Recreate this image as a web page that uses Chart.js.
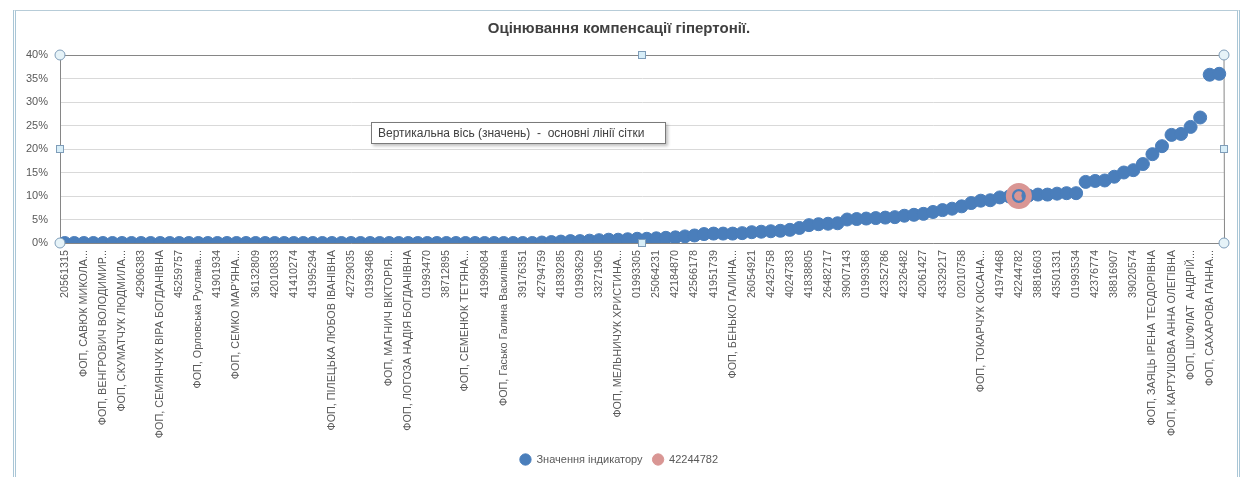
<!DOCTYPE html>
<html>
<head>
<meta charset="utf-8">
<script src="https://cdn.jsdelivr.net/npm/chart.js@4.4.1/dist/chart.umd.min.js"></script>
<style>
  body { margin: 0; background: #fff; }
  #wrap { position: relative; width: 1250px; height: 477px; overflow: hidden; }
  #frame { position: absolute; left: 13px; top: 10px; width: 1221px; height: 480px;
           border: 1px solid #b7ccd8; border-left: 3px double #a9c6d6; border-right: 3px double #a9c6d6; }
  #hint { position: absolute; left: 371px; top: 122px; width: 287px; height: 20px; padding-left: 6px;
          background: #fff; border: 1px solid #7a7a7a; box-shadow: 2px 2px 3px rgba(0,0,0,0.25);
          font: 12px "Liberation Sans", Arial, sans-serif; color: #404040; line-height: 20px; white-space: pre; }
  canvas { position: absolute; left: 0; top: 0; }
</style>
</head>
<body>
<div id="wrap">
  <div id="frame"></div>
  <canvas id="chart" width="1250" height="477"></canvas>
  <div id="hint">Вертикальна вісь (значень)  -  основні лінії сітки</div>
</div>
<script>
const titleText = 'Оцінювання компенсації гіпертонії.';
const seriesName = 'Значення індикатору';
const highlightLabel = '42244782';

// every second category label is printed on the axis; the others are hidden
const shownLabels = [
  '20561315', 'ФОП, САВЮК МИКОЛА...', 'ФОП, ВЕНГРОВИЧ ВОЛОДИМИР...', 'ФОП, СКУМАТЧУК ЛЮДМИЛА...',
  '42906383', 'ФОП, СЕМЯНЧУК ВІРА БОГДАНІВНА', '45259757', 'ФОП, Орловська Руслана...',
  '41901934', "ФОП, СЕМКО МАР'ЯНА...", '36132809', '42010833', '41410274', '41995294',
  'ФОП, ПІЛЕЦЬКА ЛЮБОВ ІВАНІВНА', '42729035', '01993486', 'ФОП, МАГНИЧ ВІКТОРІЯ...',
  'ФОП, ЛОГОЗА НАДІЯ БОГДАНІВНА', '01993470', '38712895', 'ФОП, СЕМЕНЮК ТЕТЯНА...',
  '41999084', 'ФОП, Гасько Галина Василівна', '39176351', '42794759', '41839285', '01993629',
  '33271905', 'ФОП, МЕЛЬНИЧУК ХРИСТИНА...', '01993305', '25064231', '42184870', '42566178',
  '41951739', 'ФОП, БЕНЬКО ГАЛИНА...', '26054921', '42425758', '40247383', '41838805',
  '26482717', '39007143', '01993368', '42352786', '42326482', '42061427', '43329217',
  '02010758', 'ФОП, ТОКАРЧУК ОКСАНА...', '41974468', '42244782', '38816603', '43501331',
  '01993534', '42376774', '38816907', '39020574', 'ФОП, ЗАЯЦЬ ІРЕНА ТЕОДОРІВНА',
  'ФОП, КАРТУШОВА АННА ОЛЕГІВНА', 'ФОП, ШУФЛАТ  АНДРІЙ...', 'ФОП, САХАРОВА ГАННА...'
];

// indicator values, %
const values = [
  0, 0, 0, 0, 0, 0, 0, 0, 0, 0,
  0, 0, 0, 0, 0, 0, 0, 0, 0, 0,
  0, 0, 0, 0, 0, 0, 0, 0, 0, 0,
  0, 0, 0, 0, 0, 0, 0, 0, 0, 0,
  0, 0, 0, 0, 0, 0, 0, 0, 0, 0,
  0.1, 0.2, 0.3, 0.4, 0.4, 0.5, 0.6, 0.7, 0.7, 0.8,
  0.9, 0.9, 1.0, 1.1, 1.2, 1.4, 1.6, 1.9, 2.0, 2.0,
  2.0, 2.1, 2.3, 2.4, 2.5, 2.6, 2.8, 3.2, 3.8, 4.0,
  4.1, 4.2, 5.0, 5.1, 5.2, 5.3, 5.4, 5.5, 5.8, 6.0,
  6.2, 6.6, 7.0, 7.3, 7.8, 8.5, 9.0, 9.1, 9.7, 9.9,
  10.0, 10.1, 10.3, 10.3, 10.5, 10.6, 10.6, 13.0, 13.2, 13.3,
  14.1, 15.0, 15.5, 16.8, 18.9, 20.6, 23.0, 23.2, 24.7, 26.7,
  35.8, 36.0
];

const yTicks = [0, 5, 10, 15, 20, 25, 30, 35, 40];

const categories = values.map((v, i) => i % 2 === 0 ? shownLabels[i / 2] : '');
const hi = categories.indexOf(highlightLabel);
const highlightData = values.map((v, i) => i === hi ? v : null);

const blue = '#4a7ebb';
const pink = '#d99694';
const font = '"Liberation Sans", Arial, sans-serif';

// plot area border and the selection handles around it
const plotFrame = {
  id: 'plotFrame',
  beforeDatasetsDraw(chart) {
    const {ctx, chartArea: a} = chart;
    ctx.save();
    ctx.strokeStyle = '#868686';
    ctx.lineWidth = 1;
    ctx.beginPath();
    ctx.moveTo(a.left, a.top + 0.5);
    ctx.lineTo(a.right, a.top + 0.5);
    ctx.lineTo(a.right + 0.5, a.bottom);
    ctx.stroke();
    ctx.restore();
  },
  afterDraw(chart) {
    const {ctx, chartArea: a} = chart;
    const mx = (a.left + a.right) / 2, my = (a.top + a.bottom) / 2;
    ctx.save();
    ctx.lineWidth = 1;
    ctx.strokeStyle = '#7f9db9';
    ctx.fillStyle = '#e6f3f8';
    [[a.left, a.top], [a.right, a.top], [a.left, a.bottom], [a.right, a.bottom]].forEach(([x, y]) => {
      ctx.beginPath();
      ctx.arc(x, y, 5, 0, Math.PI * 2);
      ctx.fill();
      ctx.stroke();
    });
    ctx.fillStyle = '#d8eef8';
    [[mx, a.top], [mx, a.bottom], [a.left, my], [a.right, my]].forEach(([x, y]) => {
      ctx.fillRect(x - 4, y - 4, 8, 8);
      ctx.strokeRect(x - 3.5, y - 3.5, 7, 7);
    });
    ctx.restore();
  }
};

new Chart(document.getElementById('chart'), {
  type: 'line',
  data: {
    labels: categories,
    datasets: [{
      label: seriesName,
      data: values,
      showLine: false,
      order: 2,
      pointRadius: 6.5,
      pointBorderWidth: ctx => ctx.dataIndex === hi ? 3.5 : 1,
      pointBackgroundColor: ctx => ctx.dataIndex === hi ? pink : blue,
      pointBorderColor: blue
    }, {
      label: highlightLabel,
      data: highlightData,
      showLine: false,
      order: 1,
      pointRadius: 10,
      pointBorderWidth: 6,
      pointBackgroundColor: 'rgba(0,0,0,0)',
      pointBorderColor: pink
    }]
  },
  options: {
    responsive: false,
    animation: false,
    layout: { padding: { left: 14, right: 26, top: 0, bottom: 2 } },
    plugins: {
      title: {
        display: true,
        text: titleText,
        color: '#404040',
        font: { size: 15, weight: 'bold', family: font },
        padding: { top: 20, bottom: 17 }
      },
      legend: {
        position: 'bottom',
        labels: {
          usePointStyle: true,
          pointStyle: 'circle',
          boxHeight: 8,
          color: '#595959',
          font: { size: 11, family: font },
          padding: 10,
          sort: (a, b) => a.datasetIndex - b.datasetIndex,
          generateLabels(chart) {
            const items = Chart.defaults.plugins.legend.labels.generateLabels(chart);
            items.forEach(it => { it.fillStyle = it.strokeStyle; it.lineWidth = 1; });
            return items;
          }
        }
      },
      tooltip: { enabled: false }
    },
    scales: {
      x: {
        offset: true,
        grid: { display: false, drawTicks: false },
        border: { color: '#868686', z: 1 },
        ticks: {
          autoSkip: false,
          minRotation: 90,
          maxRotation: 90,
          padding: 7,
          color: '#595959',
          font: { size: 10.8, family: font }
        },
        afterFit(scale) { scale.height = 201; }
      },
      y: {
        min: yTicks[0],
        max: yTicks[yTicks.length - 1],
        afterBuildTicks(scale) { scale.ticks = yTicks.map(v => ({ value: v })); },
        grid: { color: '#d9d9d9', drawTicks: false },
        border: { color: '#868686' },
        ticks: {
          padding: 12,
          color: '#595959',
          font: { size: 11, family: font },
          callback: v => v + '%'
        },
        afterFit(scale) { scale.width = 46; }
      }
    }
  },
  plugins: [plotFrame]
});
</script>
</body>
</html>
